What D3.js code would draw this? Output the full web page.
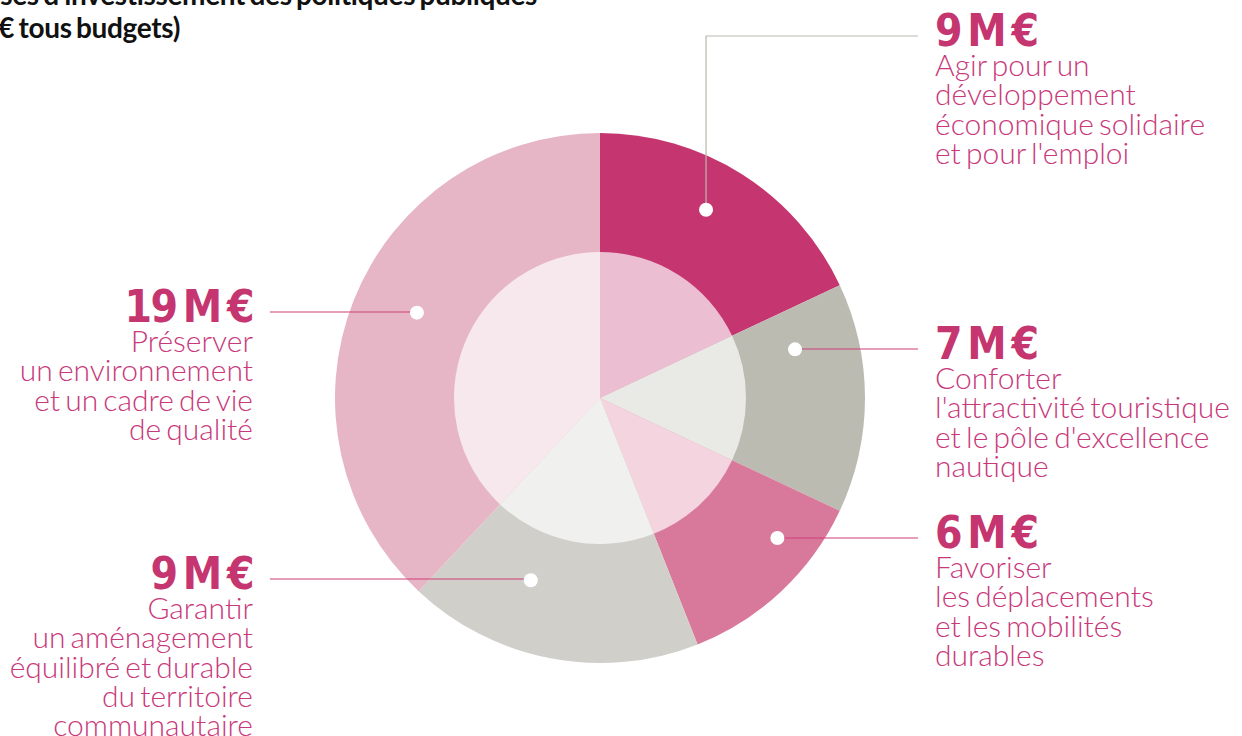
<!DOCTYPE html>
<html>
<head>
<meta charset="utf-8">
<script src="https://cdn.jsdelivr.net/npm/d3@7"></script>
<style>
  body { margin: 0; background: #fff; }
  svg { display: block; }
</style>
</head>
<body>
<div id="chart"></div>
<script>
// data
const values = [9, 7, 6, 9, 19];
const valueUnit = " M €";
const descriptions = [
  ["Agir pour un", "développement", "économique solidaire", "et pour l'emploi"],
  ["Conforter", "l'attractivité touristique", "et le pôle d'excellence", "nautique"],
  ["Favoriser", "les déplacements", "et les mobilités", "durables"],
  ["Garantir", "un aménagement", "équilibré et durable", "du territoire", "communautaire"],
  ["Préserver", "un environnement", "et un cadre de vie", "de qualité"]
];
const colors = ["#c5356f", "#bbbbb2", "#d8799b", "#d0cfca", "#e6b6c7"];
const titleLines = ["Dépenses d'investissement des politiques publiques", "(en M€ tous budgets)"];

// layout
const W = 1242, H = 736;
const cx = 600, cy = 398, R = 265, rInner = 146;
const textColor = "#c8387a";

// callout placement: dot angle (deg) / radius, label side and value baseline
const callouts = [
  { angle: 29.4, r: 216, side: "right", y: 46, lineColor: "#b9b9b1" },
  { angle: 76, r: 201, side: "right", y: 359, lineColor: "#cf3f79" },
  { angle: 128.3, r: 226, side: "right", y: 548, lineColor: "#cf3f79" },
  { angle: 200.8, r: 195, side: "left", y: 589, lineColor: "#cf3f79" },
  { angle: 295, r: 202, side: "left", y: 322, lineColor: "#cf3f79" }
];

const svg = d3.select("#chart")
  .append("svg")
  .attr("width", W)
  .attr("height", H);

// title (partly cut by the frame)
svg.selectAll(".title")
  .data(titleLines)
  .enter()
  .append("text")
  .attr("class", "title")
  .attr("x", (d, i) => i === 0 ? 537 : 180)
  .attr("y", (d, i) => i === 0 ? 5 : 38)
  .attr("text-anchor", "end")
  .style("font-family", "Lato, 'Open Sans', sans-serif")
  .style("font-weight", "bold")
  .style("font-size", "28px")
  .style("letter-spacing", "-0.35px")
  .style("word-spacing", "-2px")
  .style("fill", "#111")
  .text(d => d);

const pie = d3.pie().sort(null).value(d => d);
const arcs = pie(values);

const g = svg.append("g").attr("transform", `translate(${cx}, ${cy})`);

const outerArc = d3.arc().innerRadius(0).outerRadius(R);
const innerArc = d3.arc().innerRadius(0).outerRadius(rInner);

g.selectAll(".slice")
  .data(arcs)
  .enter()
  .append("path")
  .attr("class", "slice")
  .attr("d", outerArc)
  .attr("fill", (d, i) => colors[i]);

g.selectAll(".inner")
  .data(arcs)
  .enter()
  .append("path")
  .attr("class", "inner")
  .attr("d", innerArc)
  .attr("fill", (d, i) => d3.interpolateRgb(colors[i], "#fff")(0.68));

// callouts
const rad = Math.PI / 180;
callouts.forEach((c, i) => {
  const dx = cx + c.r * Math.sin(c.angle * rad);
  const dy = cy - c.r * Math.cos(c.angle * rad);
  const lineY = c.y - 10;
  const endX = c.side === "right" ? 918 : 270;
  const textX = c.side === "right" ? 935 : 253;
  const anchor = c.side === "right" ? "start" : "end";

  svg.append("path")
    .attr("d", `M${dx},${dy}V${lineY}H${endX}`)
    .attr("fill", "none")
    .attr("stroke", c.lineColor)
    .attr("stroke-width", 1.2);

  svg.append("circle")
    .attr("cx", dx).attr("cy", dy)
    .attr("r", 7)
    .attr("fill", "#fff");

  svg.append("text")
    .attr("x", textX).attr("y", c.y)
    .attr("text-anchor", anchor)
    .style("font-family", "'DejaVu Sans Condensed', 'DejaVu Sans', sans-serif")
    .style("font-stretch", "condensed")
    .style("font-weight", "bold")
    .style("font-size", "44px")
    .style("letter-spacing", "-1.5px")
    .style("word-spacing", "-6px")
    .style("fill", "#c5356f")
    .text(values[i] + valueUnit);

  svg.append("text")
    .attr("x", textX).attr("y", c.y)
    .attr("text-anchor", anchor)
    .style("font-family", "Lato, 'Open Sans', sans-serif")
    .style("font-weight", 300)
    .style("font-size", "30px")
    .style("letter-spacing", "0px")
    .style("word-spacing", "-3px")
    .style("fill", textColor)
    .selectAll("tspan")
    .data(descriptions[i])
    .enter()
    .append("tspan")
    .attr("x", textX)
    .attr("dy", (d, j) => j === 0 ? 30 : 29.3)
    .text(d => d);
});
</script>
</body>
</html>
